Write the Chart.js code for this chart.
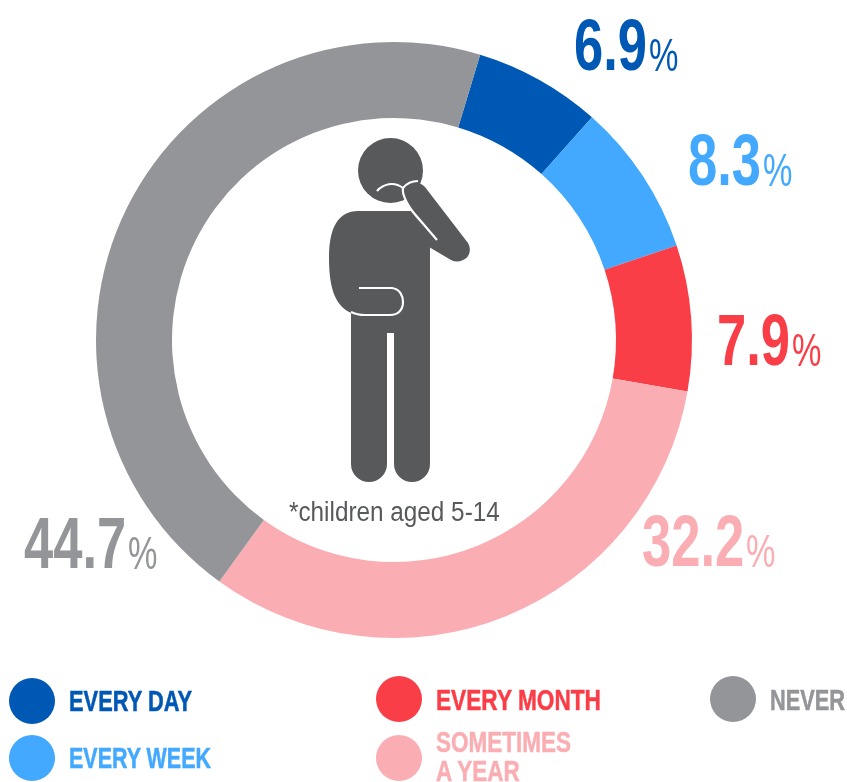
<!DOCTYPE html>
<html>
<head>
<meta charset="utf-8">
<title>Children chart</title>
<script src="https://cdn.jsdelivr.net/npm/chart.js@4"></script>
<style>
    html, body { margin: 0; padding: 0; background: #fff; }
    #wrap { position: relative; width: 847px; height: 782px; overflow: hidden; }
    #chart { position: absolute; left: 0; top: 0; }
    #person { position: absolute; left: 0; top: 0; }
    .txt {
        position: absolute;
        font-family: 'Liberation Sans Narrow', 'Liberation Sans', sans-serif;
        white-space: nowrap;
        transform-origin: 0 0;
        line-height: 1;
    }
    .dot { position: absolute; border-radius: 50%; }
</style>
</head>
<body>
<div id="wrap">
    <canvas id="chart" width="847" height="782"></canvas>
    <svg id="person" width="847" height="782" viewBox="0 0 847 782">
        <g fill="#58595B">
            <circle cx="390.5" cy="170.5" r="32.5"/>
            <path d="M351 300 L351 464 A18 18 0 0 0 387 464 L387 333 L394 333 L394 464 A18 18 0 0 0 430 464 L430 240 L412 211 L358 211 C338 211 329 228 329 258 C329 290 336 306 351 313 Z"/>
            <path d="M404 190 C407 182 419 180 425 187 L468 243 C472 250 469 258 463 260 C459 262 455 262 451 260 L429 247 L429 240 L412 211 L406 200 Z"/>
        </g>
        <g fill="none" stroke="#fff" stroke-width="2.2" stroke-linecap="butt">
            <path d="M377 191 C383 184 394 181 403 188 C407 183 413 181 418 181"/>
            <path d="M403 188 C402 194 405 201 413 212 L437 240"/>
            <path d="M359 288 L392 288 C400 289 403 296 403 302 C403 310 398 315 390 315 L365 315 C360 315 355 314 351 312"/>
        </g>
    </svg>
</div>
<script>
    const categories = ['EVERY DAY', 'EVERY WEEK', 'EVERY MONTH', 'SOMETIMES A YEAR', 'NEVER'];
    const shares = [6.9, 8.3, 7.9, 32.2, 44.7];
    const colors = ['#0058B5', '#42A9FF', '#FA3E48', '#FAAEB3', '#939598'];
    const note = '*children aged 5-14';

    // left edge and top of each percentage label
    const shareSpots = [
        { x: 574, y: 8 },
        { x: 688, y: 123 },
        { x: 717, y: 303 },
        { x: 642, y: 504 },
        { x: 24, y: 506 }
    ];

    // legend rows: dot centre and where the text starts
    const legendSpots = [
        { cx: 32, cy: 701, x: 69, y: 687, w: 123, lines: ['EVERY DAY'] },
        { cx: 32, cy: 758, x: 69, y: 744, w: 142, lines: ['EVERY WEEK'] },
        { cx: 399, cy: 699, x: 436, y: 686, w: 165, lines: ['EVERY MONTH'] },
        { cx: 399, cy: 758, x: 436, y: 728, w: 135, lines: ['SOMETIMES', 'A YEAR'] },
        { cx: 733, cy: 699, x: 770, y: 686, w: 75, lines: ['NEVER'] }
    ];

    const wrap = document.getElementById('wrap');

    function addText(str, x, y, size, weight, color, scaleX) {
        const el = document.createElement('div');
        el.className = 'txt';
        el.textContent = str;
        el.style.left = x + 'px';
        el.style.top = y + 'px';
        el.style.fontSize = size + 'px';
        el.style.fontWeight = weight;
        el.style.color = color;
        el.style.transform = 'scaleX(' + scaleX + ')';
        wrap.appendChild(el);
        return el;
    }

    new Chart(document.getElementById('chart').getContext('2d'), {
        type: 'doughnut',
        data: {
            labels: categories,
            datasets: [{
                data: shares,
                backgroundColor: colors,
                borderWidth: 0
            }]
        },
        options: {
            responsive: false,
            animation: false,
            rotation: 16.8,
            cutout: '74.5%',
            layout: { padding: { left: 96, right: 155, top: 42, bottom: 144 } },
            plugins: {
                legend: { display: false },
                tooltip: { enabled: false }
            }
        }
    });

    // percentage labels
    shares.forEach((v, i) => {
        const spot = shareSpots[i];
        const num = addText(v.toFixed(1), spot.x, spot.y, 73, 700, colors[i], 0.72);
        const numWidth = num.getBoundingClientRect().width;
        addText('%', spot.x + numWidth + 2, spot.y + 23.6, 46, 400, colors[i], 0.72);
    });

    // legend
    legendSpots.forEach((spot, i) => {
        const dot = document.createElement('div');
        dot.className = 'dot';
        dot.style.left = (spot.cx - 23) + 'px';
        dot.style.top = (spot.cy - 23) + 'px';
        dot.style.width = '46px';
        dot.style.height = '46px';
        dot.style.background = colors[i];
        wrap.appendChild(dot);

        spot.lines.forEach((line, n) => {
            const el = addText(line, spot.x, spot.y + n * 29, 29, 700, colors[i], 1);
            el.style.webkitTextStroke = '0.5px ' + colors[i];
            if (n === 0) {
                spot.scale = spot.w / el.getBoundingClientRect().width;
            }
            el.style.transform = 'scaleX(' + spot.scale + ')';
        });
    });

    addText(note, 289, 499, 27, 400, '#58595B', 0.9);
</script>
</body>
</html>
